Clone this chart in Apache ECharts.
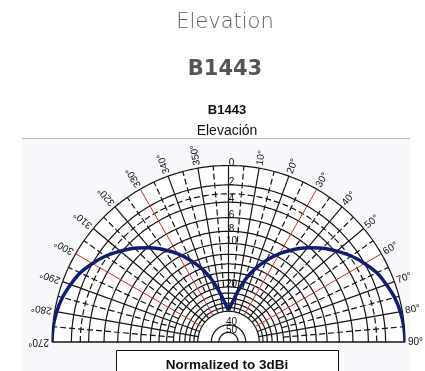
<!DOCTYPE html>
<html>
<head>
<meta charset="utf-8">
<script src="https://cdn.jsdelivr.net/npm/echarts@6/dist/echarts.min.js"></script>
<style>
  html, body { margin: 0; padding: 0; background: #ffffff; }
  #chart { width: 425px; height: 371px; }
</style>
</head>
<body>
<div id="chart"></div>
<script>
// Elevation angle (deg, 0 = zenith, negative = left half) and relative gain loss (dB below peak)
const elevAngles = [-90, -85, -80, -75, -70, -65, -60, -55, -50, -45, -40, -35, -30, -25, -20, -15, -10, -5, 0,
                     5, 10, 15, 20, 25, 30, 35, 40, 45, 50, 55, 60, 65, 70, 75, 80, 85, 90];
const lossDb = [0, 0.05, 0.2, 0.45, 0.85, 1.3, 2.0, 2.8, 3.8, 4.9, 6.2, 7.7, 9.4, 11.5, 14, 17.3, 21.5, 26, 29.5,
                26, 21.5, 17.3, 14, 11.5, 9.4, 7.7, 6.2, 4.9, 3.8, 2.8, 2.0, 1.3, 0.85, 0.45, 0.2, 0.05, 0];

// Log-periodic (ARRL style) grid rings, in dB below the outer ring
const solidRings = [0, 2, 4, 6, 8, 10, 12, 14, 16, 18, 20, 22, 24, 26, 28, 30, 40, 50];
const dashedRings = [3];
const ringLabelDb = [0, 2, 4, 6, 8, 10, 20, 40, 50];
const ringLabels = ['0', '2', '4', '6', '8', '10', '20', '40', '50'];

// Angle scale (the zenith spoke carries the dB scale instead of an angle label)
const angleTicks = [-90, -80, -70, -60, -50, -40, -30, -20, -10, 10, 20, 30, 40, 50, 60, 70, 80, 90];
const angleTickLabels = ['270°', '280°', '290°', '300°', '310°', '320°', '330°', '340°', '350°',
                         '10°', '20°', '30°', '40°', '50°', '60°', '70°', '80°', '90°'];
const redSpokes = [-60, -30, 30, 60];

// each 2 dB step shrinks the radius by a factor 0.89
function logRadius(db) { return Math.pow(0.89, db / 2); }

const patternPts = elevAngles.map((a, i) => [logRadius(lossDb[i]), a]);
const zenithIdx = elevAngles.indexOf(0);
const leftLobe = patternPts.slice(0, zenithIdx + 1);
const rightLobe = patternPts.slice(zenithIdx);

const GRID = '#141414';
const RED = '#c8321f';
const NAVY = '#101c6c';
const LBL_FONT = '10px "Liberation Sans", Arial, sans-serif';

function renderGrid(params, api) {
  const kids = [];
  const arc = (r) => {
    const pts = [];
    for (let a = -90; a <= 90; a += 1) pts.push(api.coord([r, a]));
    return pts;
  };
  // white face of the half disc
  kids.push({ type: 'polygon', shape: { points: arc(1) }, style: { fill: '#ffffff', stroke: null } });

  solidRings.forEach(db => kids.push({
    type: 'polyline', shape: { points: arc(logRadius(db)) },
    style: { stroke: GRID, lineWidth: 1.2, fill: null }
  }));
  dashedRings.forEach(db => kids.push({
    type: 'polyline', shape: { points: arc(logRadius(db)) },
    style: { stroke: GRID, lineWidth: 1.2, fill: null, lineDash: [6, 3] }
  }));

  // spokes every 5 degrees
  for (let a = -85; a <= 85; a += 5) {
    const major = a % 10 === 0;
    const red = redSpokes.indexOf(a) >= 0;
    const inner = major ? logRadius(30) : logRadius(20);
    const p0 = api.coord([inner, a]);
    const p1 = api.coord([1, a]);
    kids.push({
      type: 'line', shape: { x1: p0[0], y1: p0[1], x2: p1[0], y2: p1[1] },
      style: {
        stroke: red ? RED : GRID, lineWidth: red ? 1 : 1.2,
        lineDash: major ? null : [6, 3]
      }
    });
  }
  // horizon line
  const h0 = api.coord([1, -90]);
  const h1 = api.coord([1, 90]);
  kids.push({ type: 'line', shape: { x1: h0[0], y1: h0[1], x2: h1[0], y2: h1[1] },
              style: { stroke: GRID, lineWidth: 1.3 } });

  // angle labels, reading outward along each spoke
  angleTicks.forEach((a, i) => {
    const p = api.coord([1.017, a]);
    kids.push({
      type: 'text', x: p[0], y: p[1], rotation: (90 - a) * Math.PI / 180,
      style: { text: angleTickLabels[i], fill: '#111', font: LBL_FONT, align: 'left', verticalAlign: 'middle' }
    });
  });

  // dB labels along the zenith spoke
  ringLabelDb.forEach((db, i) => {
    const p = api.coord([logRadius(db), 0]);
    kids.push({
      type: 'text', x: p[0] + 3, y: p[1] - 2.5,
      style: { text: ringLabels[i], fill: '#111', font: LBL_FONT, align: 'center', verticalAlign: 'middle' }
    });
  });

  return { type: 'group', children: kids };
}

const chart = echarts.init(document.getElementById('chart'), null, { renderer: 'canvas' });
chart.setOption({
  animation: false,
  backgroundColor: '#ffffff',
  polar: { center: [228.5, 342], radius: 176.5 },
  angleAxis: {
    type: 'value', min: -180, max: 180, startAngle: -90, clockwise: true,
    axisLine: { show: false }, axisTick: { show: false }, axisLabel: { show: false }, splitLine: { show: false }
  },
  radiusAxis: {
    type: 'value', min: 0, max: 1,
    axisLine: { show: false }, axisTick: { show: false }, axisLabel: { show: false }, splitLine: { show: false }
  },
  graphic: [
    { type: 'rect', z: -10, shape: { x: 22, y: 139, width: 388, height: 232 }, style: { fill: '#f7f8fb' } },
    { type: 'text', x: 225, y: 23, style: { text: 'Elevation', fill: '#5e5e5e',
      font: '200 21px "DejaVu Sans", sans-serif', align: 'center', verticalAlign: 'middle' } },
    { type: 'text', x: 225, y: 70, style: { text: 'B1443', fill: '#555555',
      font: 'bold 21px "DejaVu Sans", sans-serif', align: 'center', verticalAlign: 'middle' } },
    { type: 'text', x: 227, y: 110, style: { text: 'B1443', fill: '#111',
      font: 'bold 13px "Liberation Sans", Arial, sans-serif', align: 'center', verticalAlign: 'middle' } },
    { type: 'text', x: 227, y: 131, style: { text: 'Elevación', fill: '#111',
      font: '14px "Liberation Sans", Arial, sans-serif', align: 'center', verticalAlign: 'middle' } },
    { type: 'line', z: 5, shape: { x1: 22, y1: 138.5, x2: 410, y2: 138.5 }, style: { stroke: '#bdbdbd', lineWidth: 1 } },
    { type: 'rect', z: 100, shape: { x: 116.5, y: 350.5, width: 222, height: 30 },
      style: { fill: '#ffffff', stroke: '#111', lineWidth: 1 } },
    { type: 'text', z: 101, x: 227, y: 365, style: { text: 'Normalized to 3dBi', fill: '#111',
      font: 'bold 13.5px "Liberation Sans", Arial, sans-serif', align: 'center', verticalAlign: 'middle' } }
  ],
  series: [
    { type: 'custom', coordinateSystem: 'polar', data: [[0, 0]], renderItem: renderGrid, silent: true, z: 1 },
    { type: 'line', coordinateSystem: 'polar', data: leftLobe, smooth: 0.35, symbol: 'none', z: 5,
      lineStyle: { color: NAVY, width: 3.5 } },
    { type: 'line', coordinateSystem: 'polar', data: rightLobe, smooth: 0.35, symbol: 'none', z: 5,
      lineStyle: { color: NAVY, width: 3.5 } }
  ]
});
</script>
</body>
</html>
